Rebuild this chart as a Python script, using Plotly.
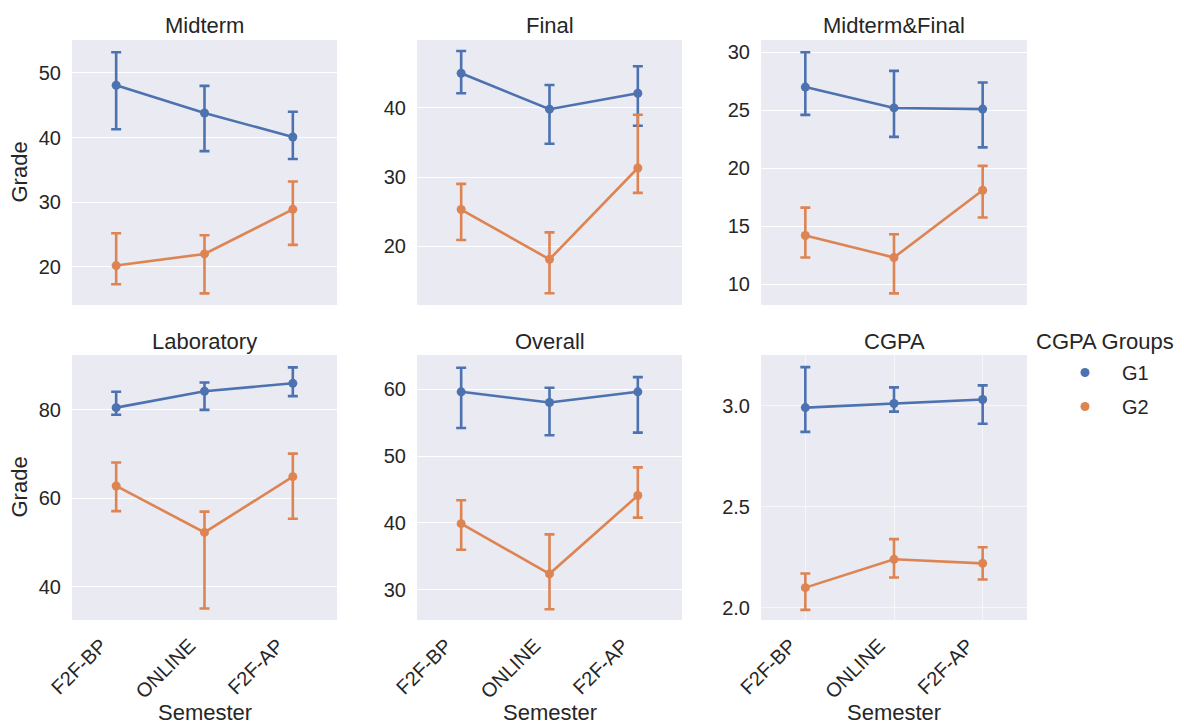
import plotly.graph_objects as go

# ---------------- data ----------------
semesters = ["F2F-BP", "ONLINE", "F2F-AP"]
panel_titles = ["Midterm", "Final", "Midterm&Final", "Laboratory", "Overall", "CGPA"]
groups = ["G1", "G2"]

# mean, upper CI, lower CI for each panel / group
midterm_g1 = [48.1, 43.8, 40.1]
midterm_g1_hi = [53.2, 48.0, 44.0]
midterm_g1_lo = [41.3, 37.9, 36.7]
midterm_g2 = [20.2, 22.0, 28.9]
midterm_g2_hi = [25.2, 24.9, 33.2]
midterm_g2_lo = [17.3, 15.9, 23.4]

final_g1 = [45.0, 39.8, 42.1]
final_g1_hi = [48.2, 43.3, 46.0]
final_g1_lo = [42.1, 34.8, 37.4]
final_g2 = [25.3, 18.1, 31.3]
final_g2_hi = [29.0, 22.0, 39.0]
final_g2_lo = [20.9, 13.2, 27.7]

mf_g1 = [27.0, 25.2, 25.1]
mf_g1_hi = [30.0, 28.4, 27.4]
mf_g1_lo = [24.6, 22.7, 21.8]
mf_g2 = [14.2, 12.3, 18.1]
mf_g2_hi = [16.6, 14.3, 20.2]
mf_g2_lo = [12.3, 9.2, 15.75]

lab_g1 = [80.5, 84.2, 86.0]
lab_g1_hi = [84.1, 86.2, 89.6]
lab_g1_lo = [78.9, 80.0, 83.1]
lab_g2 = [62.8, 52.3, 64.9]
lab_g2_hi = [68.1, 57.0, 70.1]
lab_g2_lo = [57.1, 35.1, 55.4]

overall_g1 = [59.6, 58.0, 59.6]
overall_g1_hi = [63.2, 60.2, 61.8]
overall_g1_lo = [54.2, 53.1, 53.5]
overall_g2 = [39.9, 32.4, 44.1]
overall_g2_hi = [43.4, 38.3, 48.3]
overall_g2_lo = [36.0, 27.1, 40.8]

cgpa_g1 = [2.99, 3.01, 3.03]
cgpa_g1_hi = [3.19, 3.09, 3.10]
cgpa_g1_lo = [2.87, 2.97, 2.91]
cgpa_g2 = [2.10, 2.24, 2.22]
cgpa_g2_hi = [2.17, 2.34, 2.30]
cgpa_g2_lo = [1.99, 2.15, 2.14]

panel_data = [
    [(midterm_g1, midterm_g1_hi, midterm_g1_lo), (midterm_g2, midterm_g2_hi, midterm_g2_lo)],
    [(final_g1, final_g1_hi, final_g1_lo), (final_g2, final_g2_hi, final_g2_lo)],
    [(mf_g1, mf_g1_hi, mf_g1_lo), (mf_g2, mf_g2_hi, mf_g2_lo)],
    [(lab_g1, lab_g1_hi, lab_g1_lo), (lab_g2, lab_g2_hi, lab_g2_lo)],
    [(overall_g1, overall_g1_hi, overall_g1_lo), (overall_g2, overall_g2_hi, overall_g2_lo)],
    [(cgpa_g1, cgpa_g1_hi, cgpa_g1_lo), (cgpa_g2, cgpa_g2_hi, cgpa_g2_lo)],
]

# ---------------- style / layout ----------------
W, H = 1184, 724
colors = ["#4C72B0", "#DD8452"]
bg = "#EAEAF2"
font_family = "Liberation Sans, Arial, sans-serif"
text_color = "#262626"
tick_size = 20
label_size = 22

col_px = [(72, 337), (417, 682), (761, 1027)]
row_px = [(40, 305), (355, 620)]
y_ranges = [[14.1, 55.1], [11.5, 49.8], [8.2, 31.06], [32.5, 92.4], [25.5, 65.1], [1.94, 3.25]]
y_dticks = [10, 10, 5, 20, 10, 0.5]
y_formats = ["d", "d", "d", "d", "d", ".1f"]

fig = go.Figure()

for p in range(6):
    r, c = divmod(p, 3)
    ax = "" if p == 0 else str(p + 1)
    for g, (mean, hi, lo) in enumerate(panel_data[p]):
        fig.add_trace(go.Scatter(
            x=semesters, y=mean,
            mode="lines+markers",
            line=dict(color=colors[g], width=2.6),
            marker=dict(color=colors[g], size=9),
            error_y=dict(type="data", symmetric=False,
                         array=[h - m for h, m in zip(hi, mean)],
                         arrayminus=[m - l for m, l in zip(mean, lo)],
                         color=colors[g], thickness=2.6, width=5),
            xaxis="x" + ax, yaxis="y" + ax,
            showlegend=False, name=groups[g],
        ))
    x0, x1 = col_px[c]
    y0, y1 = row_px[r]
    is_cgpa = p == 5
    fig.update_layout(**{
        "xaxis" + ax: dict(
            domain=[x0 / W, x1 / W], anchor="y" + ax, automargin=False,
            type="category", range=[-0.5, 2.5],
            showgrid=is_cgpa, gridcolor="rgba(255,255,255,0.6)", gridwidth=1,
            showline=False, zeroline=False, ticks="",
            showticklabels=(r == 1), tickangle=-45,
            tickfont=dict(size=tick_size, color=text_color, family=font_family),
            ticklabelstandoff=9, ticklabelshift=-15,
        ),
        "yaxis" + ax: dict(
            domain=[1 - y1 / H, 1 - y0 / H], anchor="x" + ax, automargin=False,
            range=y_ranges[p], dtick=y_dticks[p], tickformat=y_formats[p],
            showgrid=True, gridcolor="rgba(255,255,255,0.6)" if is_cgpa else "white",
            gridwidth=1.3, showline=False, zeroline=False, ticks="",
            tickfont=dict(size=tick_size, color=text_color, family=font_family),
            ticklabelstandoff=10,
        ),
    })
    # panel title
    fig.add_annotation(text=panel_titles[p], x=(x0 + x1) / 2 / W, y=1 - (y0 - 14) / H,
                       xref="paper", yref="paper", showarrow=False,
                       xanchor="center", yanchor="middle",
                       font=dict(size=label_size, color=text_color, family=font_family))
    if r == 1:
        fig.add_annotation(text="Semester", x=(x0 + x1) / 2 / W, y=1 - 712 / H,
                           xref="paper", yref="paper", showarrow=False,
                           xanchor="center", yanchor="middle",
                           font=dict(size=label_size, color=text_color, family=font_family))
    if c == 0:
        fig.add_annotation(text="Grade", x=19 / W, y=1 - (y0 + y1) / 2 / H,
                           xref="paper", yref="paper", showarrow=False, textangle=-90,
                           xanchor="center", yanchor="middle",
                           font=dict(size=label_size, color=text_color, family=font_family))

# legend entries (markers only)
for g in range(2):
    fig.add_trace(go.Scatter(x=[None], y=[None], mode="markers",
                             marker=dict(color=colors[g], size=9),
                             name=groups[g], showlegend=True, legendgroup=groups[g],
                             xaxis="x6", yaxis="y6"))

fig.add_annotation(text="CGPA Groups", x=1034 / W, y=1 - 341 / H,
                   xref="paper", yref="paper", showarrow=False,
                   xanchor="left", yanchor="middle",
                   font=dict(size=label_size, color=text_color, family=font_family))

fig.update_layout(
    width=W, height=H,
    margin=dict(l=0, r=0, t=0, b=0, autoexpand=False),
    paper_bgcolor="white", plot_bgcolor=bg,
    font=dict(family=font_family, color=text_color),
    legend=dict(x=1048 / W, y=1 - 353 / H, xanchor="left", yanchor="top",
                font=dict(size=tick_size, color=text_color, family=font_family),
                bgcolor="rgba(0,0,0,0)", itemwidth=64, tracegroupgap=5,
                traceorder="grouped"),
)

fig.write_html("out.html", config={"displayModeBar": False},
               post_script="document.body.style.margin='0px';document.body.style.padding='0px';")
